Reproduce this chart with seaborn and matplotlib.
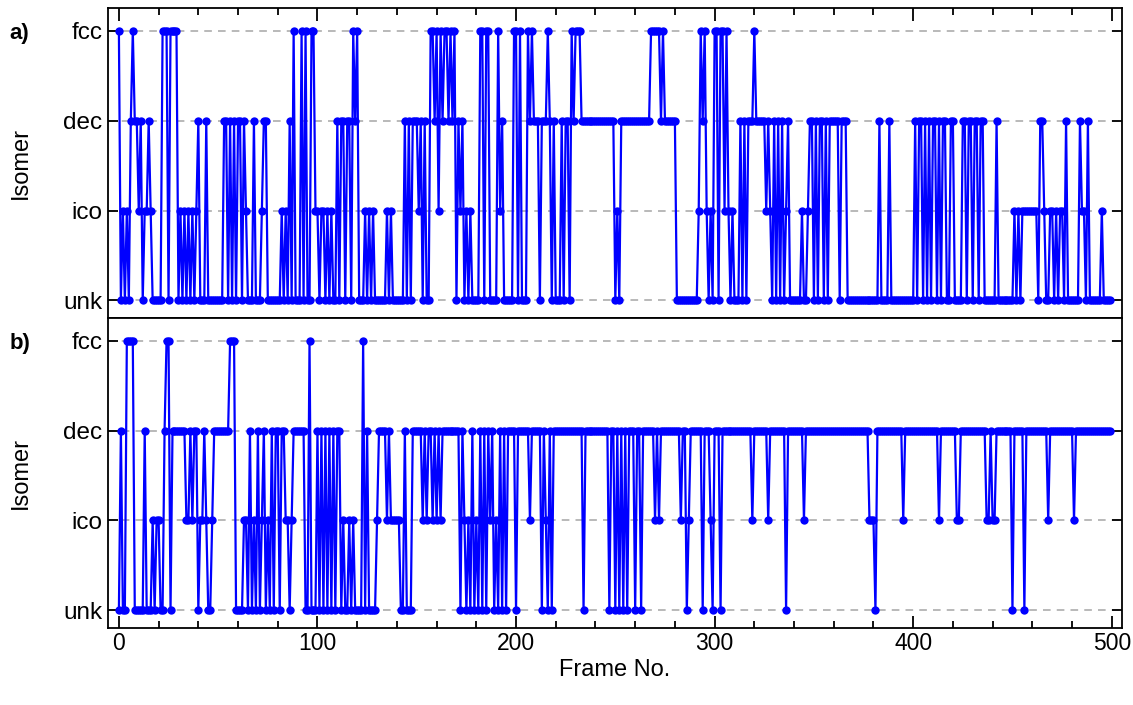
import matplotlib
matplotlib.use('Agg')
import matplotlib.pyplot as plt
import numpy as np
import pandas as pd
import seaborn as sns
from matplotlib.ticker import MultipleLocator

# ---------------------------------------------------------------------------
# Data: isomer label per frame (u=unk, i=ico, d=dec, f=fcc), 10 frames a chunk
# ---------------------------------------------------------------------------

isomer_names = ['unk', 'ico', 'dec', 'fcc']
code_to_level = {'u': 0, 'i': 1, 'd': 2, 'f': 3}

panel_a_frames = [
    "fuiuiudfdd", "iduiidiuuu", "uufffuffff", "uiuiuiuiui", "duuuduuuuu",
    "uuuddududu", "ddudiuuudu", "uuidduuuuu", "uuiuiudufu", "uufufuuffi",
    "iuiiuiuiuu", "dudduddufd", "fuuuiuiuiu", "uuuuuiuiuu", "uuuudududd",
    "diduduuffd", "fifdffdfdf", "udiduiuiuu", "uuffuffuuu", "ufiduuuuuf",
    "fufuuufdfd", "ddudddfdud", "uuududdufd", "fffddddddd", "dddddddddd",
    "uiuddddddd", "ddddddddff", "fffdfddddd", "duuuuuuuuu", "uuifdfiuiu",
    "ffuffifiui", "uuudududdd", "fdddddidiu", "dududuiduu", "uuuuiuuidd",
    "ududdududd", "ddduddduuu", "uuuuuuuuuu", "uuuduuuudu", "uuuuuuuuuu",
    "ududdududu", "ddududduud", "duuuuddudd", "uddudduuuu", "uuduuuuuuu",
    "uiuiuiiiii", "iiiuddiuui", "iuiuiiuduu", "uuuudiiudu", "uuuuuiuuuu",
]

panel_b_frames = [
    "uduuffffuu", "uuuduuuiui", "iuudffuddd", "ddddiididd", "uiidiuuidd",
    "ddddddfffu", "uuuiiuduiu", "duiduiudud", "duddiiuidd", "dddduufuuu",
    "dududududu", "dduiuuiuiu", "uuufuduuuu", "iddddidiii", "iiuuduuudd",
    "dddididdid", "ididdddddd", "ddudiuiudu", "iudududidu", "iudududddd",
    "uddddddidd", "dddudiudud", "dddddddddd", "dddduddddd", "dddddddudd",
    "ududududdd", "uddudddddd", "ididdddddd", "dddidduidd", "ddddudddiu",
    "dddudddddd", "dddddddddi", "dddddddidd", "dddddduddd", "dddddidddd",
    "dddddddddd", "dddddddddd", "ddddddddii", "iudddddddd", "dddddidddd",
    "dddddddddd", "dddidddddd", "ddiidddddd", "dddddddiid", "iidddddddd",
    "uddddduddd", "ddddddddid", "dddddddddd", "didddddddd", "dddddddddd",
]

panel_labels = ['a)', 'b)']


def _to_frame(chunks):
    seq = ''.join(chunks)
    return pd.DataFrame({'frame': np.arange(len(seq)),
                         'level': [code_to_level[c] for c in seq]})


# ---------------------------------------------------------------------------
# Figure
# ---------------------------------------------------------------------------

sns.set_style('ticks')
plt.rcParams['font.family'] = ['Liberation Sans', 'DejaVu Sans']
plt.rcParams['text.color'] = 'black'
plt.rcParams['axes.labelcolor'] = 'black'
plt.rcParams['xtick.color'] = 'black'
plt.rcParams['ytick.color'] = 'black'

fig, axes = plt.subplots(2, 1, figsize=(11.33, 7.05), dpi=100, sharex=True)
fig.subplots_adjust(left=0.0953, right=0.990, top=0.988, bottom=0.109, hspace=0)

for ax, chunks, label in zip(axes, [panel_a_frames, panel_b_frames], panel_labels):
    df = _to_frame(chunks)
    for lvl in range(4):
        ax.axhline(lvl, color='#a6a6a6', lw=1.1, ls=(0, (5, 4)), zorder=0)
    sns.lineplot(data=df, x='frame', y='level', ax=ax, color='#0000ff',
                 marker='o', markersize=6, markeredgewidth=0, linewidth=1.6,
                 estimator=None, zorder=3)
    ax.set_ylim(-0.2, 3.25)
    ax.set_xlim(-5.5, 505)
    ax.set_yticks(range(4))
    ax.set_yticklabels(isomer_names, fontsize=17.5)
    ax.set_ylabel('Isomer', fontsize=17)
    ax.yaxis.set_label_coords(-0.075, 0.5)
    ax.set_xlabel('')
    for side in ['top', 'bottom', 'left', 'right']:
        ax.spines[side].set_visible(True)
        ax.spines[side].set_linewidth(1.3)
        ax.spines[side].set_color('black')
    ax.tick_params(axis='y', which='both', left=True, right=True,
                   direction='in', length=7, width=1.3, pad=4)
    ax.text(-0.097, 0.92, label, transform=ax.transAxes, fontsize=16,
            fontweight='bold', ha='left', va='center')

ax_a, ax_b = axes
ax_b.xaxis.set_major_locator(MultipleLocator(100))
ax_b.xaxis.set_minor_locator(MultipleLocator(20))
ax_a.tick_params(axis='x', which='both', top=True, bottom=False,
                 direction='in', labelbottom=False, width=1.3)
ax_a.tick_params(axis='x', which='major', length=9)
ax_a.tick_params(axis='x', which='minor', length=5)
ax_b.tick_params(axis='x', which='both', top=False, bottom=True,
                 direction='in', width=1.3, labelsize=16.5, pad=3)
ax_b.tick_params(axis='x', which='major', length=9)
ax_b.tick_params(axis='x', which='minor', length=5)
ax_b.set_xlabel('Frame No.', fontsize=17, labelpad=3)

fig.savefig('out.png', dpi=100)
